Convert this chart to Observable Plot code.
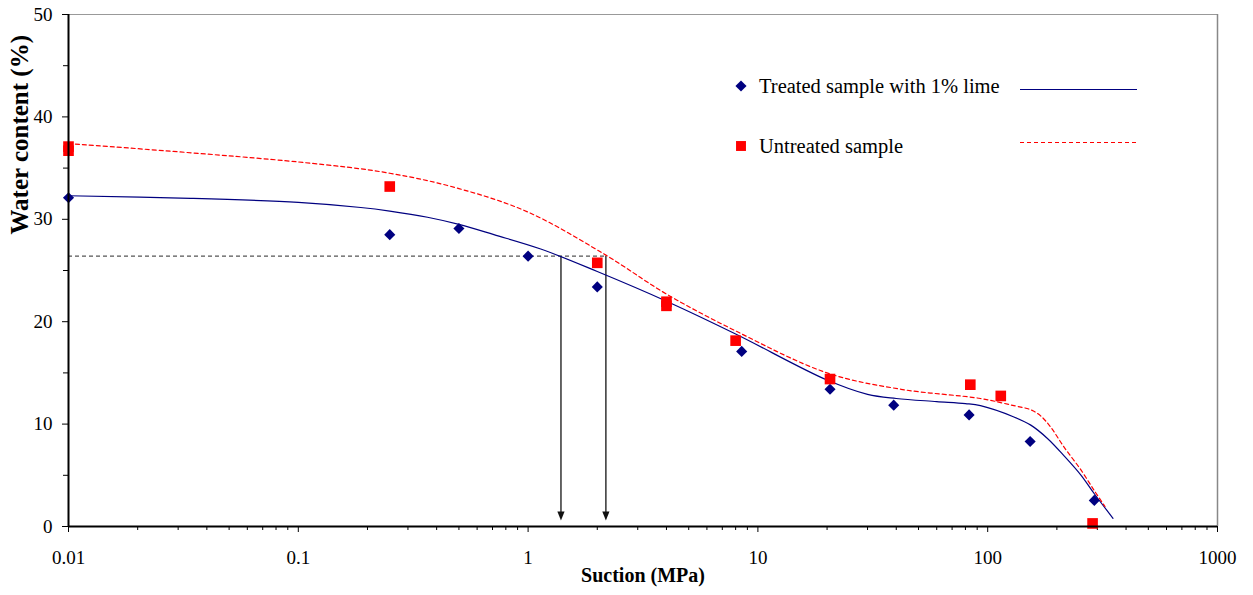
<!DOCTYPE html>
<html><head><meta charset="utf-8">
<script src="https://cdn.jsdelivr.net/npm/d3@7"></script>
<script src="https://cdn.jsdelivr.net/npm/@observablehq/plot@0.6"></script>
<style>body{margin:0;background:#fff} #chart{width:1253px;height:595px}</style>
</head><body><div id="chart"></div>
<script>
// ---- measured points ----
const treatedSuction = [0.01, 0.25, 0.5, 1, 2, 8.5, 20.6, 39, 83, 153, 291];
const treatedWater   = [32.1, 28.5, 29.1, 26.4, 23.4, 17.1, 13.4, 11.85, 10.9, 8.3, 2.55];
const untreatedSuction = [0.01, 0.01, 0.25, 2, 4, 4, 8, 20.6, 84, 114, 286];
const untreatedWater   = [37.1, 36.7, 33.2, 25.75, 21.95, 21.55, 18.15, 14.4, 13.85, 12.75, 0.3];
// ---- fitted curves ----
const treatedFitSuction = [0.01, 0.034, 0.1, 0.187, 0.25, 0.365, 0.5, 0.71, 1.135, 2, 4, 8, 20, 30, 40, 60, 80, 93, 130, 154, 182, 215, 255, 291, 351];
const treatedFitWater   = [32.3, 32.05, 31.65, 31.15, 30.8, 30.2, 29.5, 28.5, 27.1, 24.9, 22.0, 18.8, 14.3, 12.9, 12.5, 12.2, 12.0, 11.8, 10.7, 9.9, 8.6, 6.9, 5.0, 3.2, 0.8];
const untreatedFitSuction = [0.01, 0.1, 0.25, 0.5, 1, 2.18, 4, 8, 20, 42, 93, 130, 154, 170, 188, 215, 255, 291, 324];
const untreatedFitWater   = [37.4, 35.6, 34.5, 33.0, 30.7, 26.5, 22.7, 19.1, 15.0, 13.4, 12.5, 11.8, 11.4, 10.8, 9.7, 7.75, 5.5, 3.5, 1.95];
// ---- reference construction ----
const refWater = 26.4;
const refSuction = [1.39, 2.18];
// ---- axes / labels ----
const xTicks = [0.01, 0.1, 1, 10, 100, 1000];
const xMinorMult = [2, 3, 4, 5, 6, 7, 8, 9];
const yTicks = [0, 10, 20, 30, 40, 50];
const yMinorTicks = [5, 15, 25, 35, 45];
const xLabel = "Suction (MPa)";
const yLabel = "Water content (%)";
const seriesNames = ["Treated sample with 1% lime", "Untreated sample"];
const seriesColors = ["#000080", "#ff0000"];

const xMinorTicks = xTicks.slice(0, -1).flatMap(d => xMinorMult.map(m => d * m));
const pts = (xs, ys) => xs.map((x, i) => ({x, y: ys[i]}));
const font = '"Liberation Serif", "Times New Roman", serif';

const downTriangle = {draw(ctx) { ctx.moveTo(0, 0); ctx.lineTo(3.6, -9); ctx.lineTo(-3.6, -9); ctx.closePath(); }};

const svg = Plot.plot({
  width: 1253, height: 595,
  marginLeft: 68, marginRight: 36, marginTop: 14, marginBottom: 69,
  style: {fontFamily: font, fontSize: "19px", color: "#000", background: "#fff", overflow: "visible"},
  x: {type: "log", domain: [0.01, 1000]},
  y: {domain: [0, 50]},
  marks: [
    Plot.ruleY([50], {stroke: "#999", strokeWidth: 1}),
    Plot.ruleX([1000], {stroke: "#888", strokeWidth: 1.5}),
    Plot.axisX({ticks: xMinorTicks, tickSize: 4, tickFormat: () => "", label: null, stroke: "#000"}),
    Plot.axisX({ticks: xTicks, tickSize: 6, tickPadding: 18, tickFormat: d => String(d), label: null, fontSize: 19}),
    Plot.axisY({ticks: yMinorTicks, tickSize: 5, tickFormat: () => "", label: null}),
    Plot.axisY({ticks: yTicks, tickSize: 6, tickPadding: 10, label: null, fontSize: 19}),
    // reference construction
    Plot.ruleY([refWater], {x1: 0.01, x2: refSuction[1], stroke: "#555", strokeWidth: 1.2, strokeDasharray: "4,3"}),
    Plot.ruleX(refSuction, {x: d => d, y1: refWater, y2: 0, insetBottom: 12, stroke: "#333", strokeWidth: 1.5}),
    Plot.dot(refSuction, {x: d => d, y: 0, dy: -6, symbol: downTriangle, fill: "#111", stroke: "none"}),
    // fitted curves
    Plot.line(pts(treatedFitSuction, treatedFitWater), {x: "x", y: "y", curve: "catmull-rom", stroke: seriesColors[0], strokeWidth: 1.2}),
    Plot.line(pts(untreatedFitSuction, untreatedFitWater), {x: "x", y: "y", curve: "catmull-rom", stroke: seriesColors[1], strokeWidth: 1.2, strokeDasharray: "4,3"}),
    // points
    Plot.dot(pts(treatedSuction, treatedWater), {x: "x", y: "y", symbol: "diamond2", r: 5, fill: seriesColors[0], stroke: "none"}),
    Plot.dot(pts(untreatedSuction, untreatedWater), {x: "x", y: "y", symbol: "square", r: 6, fill: seriesColors[1], stroke: "none"}),
    // axis lines
    Plot.ruleY([0], {stroke: "#000", strokeWidth: 2}),
    Plot.ruleX([0.01], {stroke: "#000", strokeWidth: 2}),
    // axis titles
    Plot.text([yLabel], {text: d => d, frameAnchor: "left", dx: -49, dy: -36, rotate: -90, fontWeight: "bold", fontSize: 25}),
    Plot.text([xLabel], {text: d => d, frameAnchor: "bottom", dy: 55, fontWeight: "bold", fontSize: 20})
  ]
});

// legend inside plot area
const lg = d3.select(svg).append("g").attr("font-family", font).attr("font-size", 20.5).attr("text-anchor", "start");
const rowY = [86, 146];
const lineY = [89.5, 142.5];
seriesNames.forEach((name, i) => {
  const cy = rowY[i];
  const sym = i === 0 ? d3.symbol(d3.symbolDiamond2, 5 * 5 * Math.PI) : d3.symbol(d3.symbolSquare, 5.6 * 5.6 * Math.PI);
  lg.append("path").attr("d", sym()).attr("transform", `translate(741,${cy})`).attr("fill", seriesColors[i]);
  lg.append("text").attr("x", 759).attr("y", cy + 7).attr("fill", "#000").attr("text-anchor", "start").text(name);
  lg.append("line").attr("x1", 1020).attr("x2", 1137).attr("y1", lineY[i]).attr("y2", lineY[i])
    .attr("stroke", seriesColors[i]).attr("stroke-width", 1.2).attr("stroke-dasharray", i === 0 ? null : "4,3");
});

document.getElementById("chart").appendChild(svg);
</script>
</body></html>
